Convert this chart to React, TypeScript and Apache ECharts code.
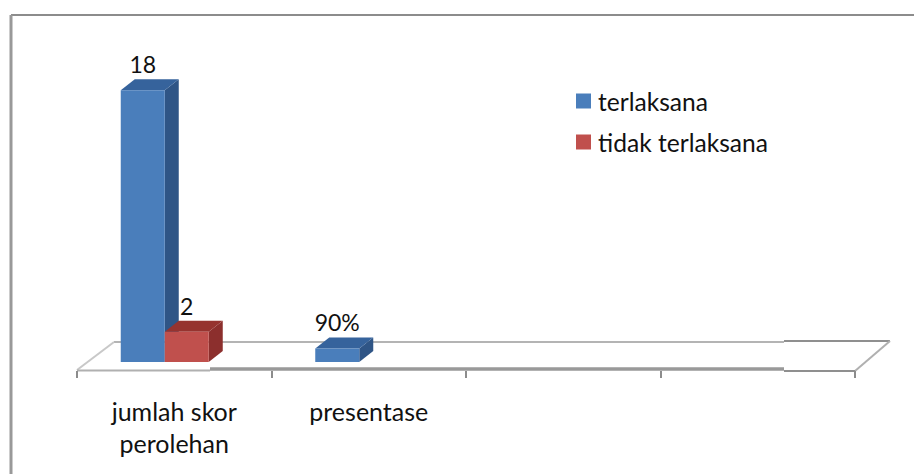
import React, { useEffect, useRef } from "react";
import * as echarts from "echarts";

const categories = ["jumlah skor\nperolehan", "presentase", "", ""];
const seriesNames = ["terlaksana", "tidak terlaksana"];
const terlaksana: (number | null)[] = [18, 0.9, null, null];
const tidakTerlaksana: (number | null)[] = [2, null, null, null];
const valueLabels = [
  ["18", "90%", "", ""],
  ["2", "", "", ""],
];
const palette = [
  { front: "#4a7ebb", side: "#2f5586", top: "#36639c" },
  { front: "#c0504d", side: "#8c2f2d", top: "#96332f" },
];

const FONT = "Lato, 'Open Sans', sans-serif";
const TEXT = "#111111";

// Draws one bar as an extruded box: front face, receding side and lid.
function renderBox(seriesIndex: number) {
  return (params: any, api: any) => {
    const cat = api.value(0);
    const val = api.value(1);
    const [cx, yTop] = api.coord([cat, val]);
    const [, yBase] = api.coord([cat, 0]);
    const barW = 44;
    const depthX = 14;
    const depthY = 11;
    const floorX = -9.5;
    const floorY = -9;
    const x0 = cx + floorX - barW * (1 - seriesIndex);
    const x1 = x0 + barW;
    const b = yBase + floorY;
    const t = yTop + floorY;
    const c = palette[seriesIndex];
    const poly = (points: number[][], fill: string) => ({
      type: "polygon",
      shape: { points },
      style: { fill },
    });
    const label = valueLabels[seriesIndex][params.dataIndex];
    return {
      type: "group",
      children: [
        poly([[x1, b], [x1 + depthX, b - depthY], [x1 + depthX, t - depthY], [x1, t]], c.side),
        poly([[x0, t], [x0 + depthX, t - depthY], [x1 + depthX, t - depthY], [x1, t]], c.top),
        poly([[x0, b], [x1, b], [x1, t], [x0, t]], c.front),
        {
          type: "text",
          x: x0 + barW / 2,
          y: t - 26,
          style: {
            text: label,
            fill: TEXT,
            font: `23px ${FONT}`,
            align: "center",
            verticalAlign: "middle",
          },
        },
      ],
    };
  };
}

export default function App() {
  const ref = useRef<HTMLDivElement>(null);

  useEffect(() => {
    const chart = echarts.init(ref.current!, undefined, { renderer: "svg" });
    const line = (x1: number, y1: number, x2: number, y2: number, lineWidth: number, stroke: string) => ({
      type: "line",
      shape: { x1, y1, x2, y2 },
      style: { stroke, lineWidth },
      silent: true,
      z: -5,
    });
    chart.setOption({
      animation: false,
      backgroundColor: "#ffffff",
      grid: { left: 77, right: 59, top: 39, bottom: 103, containLabel: false },
      legend: {
        left: 571,
        top: 81,
        orient: "vertical",
        itemWidth: 15,
        itemHeight: 15,
        itemGap: 11,
        icon: "rect",
        textStyle: { fontFamily: FONT, fontSize: 24.6, lineHeight: 30, color: TEXT, padding: [0, 0, 0, 2] },
        data: seriesNames,
      },
      xAxis: {
        type: "category",
        data: categories,
        boundaryGap: true,
        axisLine: { show: false },
        axisTick: { show: true, length: 7, alignWithLabel: false, lineStyle: { color: "#8c8c8c", width: 2 } },
        axisLabel: {
          interval: 0,
          margin: 24,
          fontFamily: FONT,
          fontSize: 25,
          lineHeight: 32,
          color: TEXT,
          align: "center",
        },
      },
      yAxis: { type: "value", min: 0, max: 22, show: false },
      color: [palette[0].front, palette[1].front],
      graphic: [
        // Chart frame: only its top and left edges are drawn.
        line(11, 15, 914, 15, 2, "#8c8c8c"),
        line(11, 15, 11, 474, 3, "#999999"),
        // Floor of the 3D plot.
        line(114, 342, 784, 342, 2, "#b4b4b4"),
        line(784, 341, 890, 341, 2, "#8f8f8f"),
        line(77, 370, 114, 342, 2, "#c8c8c8"),
        line(855, 371, 890, 341, 2, "#b0b0b0"),
        line(77, 370.5, 210, 370.5, 2, "#b0b0b0"),
        line(210, 369, 784, 369, 3.5, "#999999"),
        line(784, 371, 855, 371, 2, "#8f8f8f"),
      ],
      series: [terlaksana, tidakTerlaksana].map((values, i) => ({
        type: "custom",
        name: seriesNames[i],
        coordinateSystem: "cartesian2d",
        renderItem: renderBox(i),
        encode: { x: 0, y: 1 },
        data: values.map((v, idx) => [idx, v]).filter((d) => d[1] !== null),
        itemStyle: { color: palette[i].front },
      })),
    });
    return () => chart.dispose();
  }, []);

  return <div ref={ref} style={{ position: "absolute", left: 0, top: 0, width: 914, height: 474 }} />;
}
